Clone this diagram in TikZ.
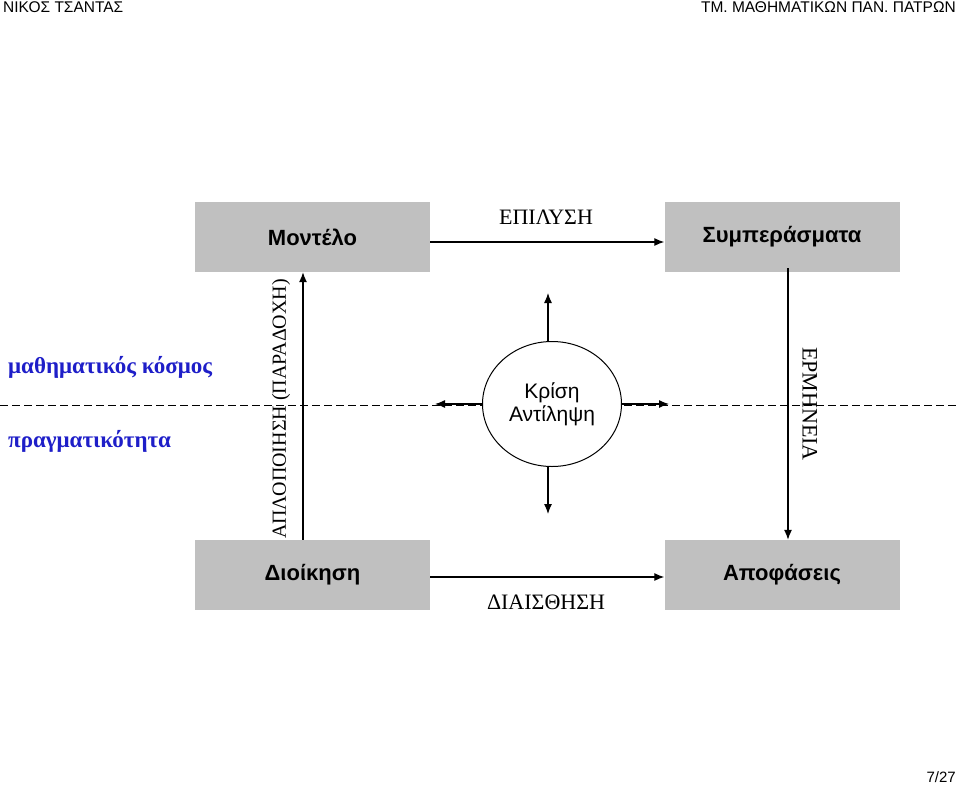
\documentclass[tikz,border=0pt]{standalone}
\usepackage{fontspec}
\setmainfont{Liberation Serif}
\setsansfont{Liberation Sans}
\usetikzlibrary{positioning, shapes.geometric, arrows.meta}
\definecolor{boxgray}{RGB}{192,192,192}
\definecolor{worldblue}{RGB}{30,30,200}
\begin{document}
\begin{tikzpicture}[
    x=1pt, y=-1pt,
    box/.style={rectangle, fill=boxgray, minimum width=235pt, minimum height=70pt, inner sep=0pt, font=\sffamily\bfseries\fontsize{22}{26}\selectfont},
    label/.style={inner sep=0pt, font=\fontsize{22}{26}\selectfont},
    world/.style={inner sep=0pt, anchor=west, text=worldblue, font=\bfseries\fontsize{23}{27}\selectfont},
    head/.style={inner sep=0pt, font=\sffamily\fontsize{15.5}{18}\selectfont},
    arrow/.style={-{Latex[length=10pt, width=8pt]}, line width=1.2pt}
]
\useasboundingbox (0,0) rectangle (959,785);

% header and footer
\node (author) [head, anchor=west] at (3,7) {ΝΙΚΟΣ ΤΣΑΝΤΑΣ};
\node (dept) [head, anchor=east] at (956,7) {ΤΜ. ΜΑΘΗΜΑΤΙΚΩΝ ΠΑΝ. ΠΑΤΡΩΝ};
\node (page) [head, anchor=east, font=\sffamily\fontsize{15}{18}\selectfont] at (956,777) {7/27};

% boundary between the two worlds
\coordinate (wl) at (0,405);
\coordinate (wr) at (959,405);
\draw[dash pattern=on 8pt off 4pt, line width=1pt] (wl) -- (wr);
\node (math) [world] at (8,367) {μαθηματικός κόσμος};
\node (real) [world] at (8,441) {πραγματικότητα};

% the four boxes
\node (model) [box] at (312.5,237) {Μοντέλο};
\node (concl) [box] at (782,237) {Συμπεράσματα};
\node (admin) [box] at (312.5,575) {Διοίκηση};
\node (decis) [box] at (782,575) {Αποφάσεις};

% judgement in the middle
\node (judge) [ellipse, draw, line width=1pt, fill=white, minimum width=139pt, minimum height=125pt, align=center, inner sep=0pt, font=\sffamily\fontsize{21}{23}\selectfont] at (552,404) {Κρίση\\Αντίληψη};
\coordinate (up) at (548,293);
\coordinate (down) at (548,514);
\coordinate (left) at (435,404);
\coordinate (right) at (669,404);

\draw[arrow] (judge.north -| up) -- (up);
\draw[arrow] (judge.south -| down) -- (down);
\draw[arrow] (judge.west) -- (left);
\draw[arrow] (judge.east) -- (right);

% cycle
\draw[arrow] (model.east |- 0,242) -- (concl.west |- 0,242);
\draw[arrow] (admin.east |- 0,577) -- (decis.west |- 0,577);
\draw[arrow] (admin.north -| 303,0) -- (model.south -| 303,0);
\draw[arrow] (788,268) -- (decis.north -| 788,0);

\node (solve) [label] at (546,217) {ΕΠΙΛΥΣΗ};
\node (sense) [label] at (546,602) {ΔΙΑΙΣΘΗΣΗ};
\node (simple) [label, rotate=90, font=\fontsize{20}{24}\selectfont] at (281,409) {ΑΠΛΟΠΟΙΗΣΗ (ΠΑΡΑΔΟΧΗ)};
\node (interp) [label, rotate=-90] at (810,404) {ΕΡΜΗΝΕΙΑ};

\end{tikzpicture}
\end{document}
